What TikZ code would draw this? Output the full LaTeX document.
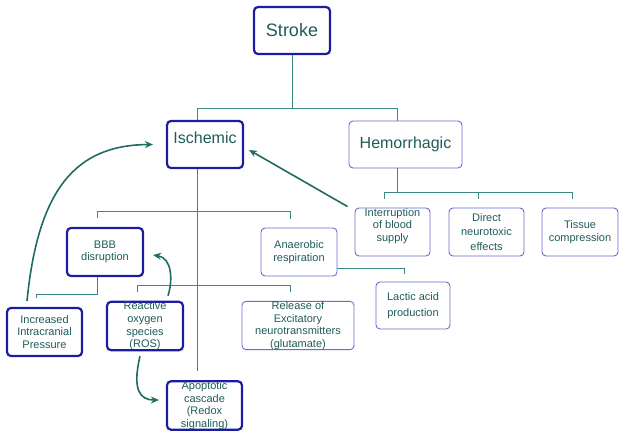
\documentclass[tikz,border=0pt]{standalone}
\usepackage{fontspec}
\setmainfont{Liberation Sans}
\usetikzlibrary{calc,arrows.meta}
\definecolor{tealline}{HTML}{3A8A82}
\definecolor{tealarrow}{HTML}{1F6B63}
\definecolor{tealtext}{HTML}{1E5C58}
\definecolor{darkblue}{HTML}{1C1CA0}
\definecolor{lightblue}{HTML}{6A6AD0}
\tikzset{
  box/.style={draw, rounded corners=4pt, inner sep=0pt, align=center,
    text=tealtext, font=\fontsize{11}{12.7}\selectfont},
  thickbox/.style={box, draw=darkblue, line width=2.2pt},
  thinbox/.style={box, draw=lightblue, line width=0.9pt},
  conn/.style={draw=tealline, line width=1pt},
  arr/.style={draw=tealarrow, line width=1.6pt, -{Stealth[length=8pt,width=7pt]}}
}
\begin{document}
\begin{tikzpicture}[x=1pt,y=-1pt]
\useasboundingbox (0,0) rectangle (624,437);
% nodes
\node[thickbox, minimum width=76, minimum height=47, font=\fontsize{18}{20}\selectfont] (stroke) at (292,30.5) {Stroke};
\node[thickbox, minimum width=76, minimum height=47, label={[text=tealtext, font=\fontsize{16}{18}\selectfont, yshift=7pt]center:Ischemic}] (isch) at (205,144.5) {};
\node[thinbox, minimum width=113, minimum height=47, font=\fontsize{16}{18}\selectfont] (hem) at (405.5,144.5) {Hemorrhagic};
\node[thickbox, minimum width=76, minimum height=48] (bbb) at (105,252) {BBB\\disruption};
\node[thinbox, minimum width=76, minimum height=48] (anaer) at (299,252) {Anaerobic\\respiration};
\node[thickbox, minimum width=75, minimum height=48] (icp) at (44.5,332) {Increased\\Intracranial\\Pressure};
\node[thickbox, minimum width=76, minimum height=48] (ros) at (145,326) {Reactive\\oxygen\\species\\(ROS)};
\node[thinbox, minimum width=112, minimum height=47] (rel) at (298,325.5) {Release of\\Excitatory\\neurotransmitters\\(glutamate)};
\node[thickbox, minimum width=75, minimum height=47] (apop) at (204.5,405.5) {Apoptotic\\cascade\\(Redox\\signaling)};
\node[thinbox, minimum width=74, minimum height=47, font=\fontsize{11}{16}\selectfont] (lactic) at (413,305.5) {Lactic acid\\production};
\node[thinbox, minimum width=75, minimum height=48, label={[text=tealtext, align=center, font=\fontsize{11}{12.7}\selectfont, yshift=6pt]center:Interruption\\of blood\\supply}] (intr) at (392.5,232) {};
\node[thinbox, minimum width=75, minimum height=48, font=\fontsize{11}{14.5}\selectfont] (direct) at (486.5,232) {Direct\\neurotoxic\\effects};
\node[thinbox, minimum width=76, minimum height=48] (tissue) at (580,232) {Tissue\\compression};
% tree connectors
\coordinate (j1) at ($(stroke.south)+(0,53)$);
\draw[conn] (stroke.south) -- (j1);
\draw[conn] ($(isch.north)+(-8,0)$) |- (j1) -| ($(hem.north)+(-8.5,0)$);
\coordinate (iend) at ($(apop.north)+(-7.5,-9)$);
\draw[conn] ($(isch.south)+(-8,0)$) -- (iend);
\draw[conn] ($(bbb.north)+(-8,-9)$) -- ++(0,-6) -| ($(anaer.north)+(-9,-9)$);
\draw[conn] ($(ros.north)+(-8,-9)$) -- ++(0,-6) -| ($(rel.north)+(-8,-8.5)$);
\draw[conn] ($(bbb.south)+(-8,0)$) -- ++(0,17) -| ($(icp.north)+(-8.5,-9)$);
\draw[conn] ($(anaer.east)+(0,16)$) -| ($(lactic.north)+(-9,-8)$);
\draw[conn] ($(hem.south)+(-8.5,0)$) -- ++(0,25) coordinate (j2);
\draw[conn] ($(intr.north)+(-8.5,-9)$) -- ++(0,-6) -| ($(tissue.north)+(-8,-9)$);
\draw[conn] ($(direct.north)+(-8.5,-9)$) -- ++(0,-6);
% arrows
\draw[arr] ($(intr.north west)+(-7,-1)$) -- ($(isch.east)+(5,5.5)$);
\draw[arr] ($(icp.north)+(-17.5,-6)$) .. controls (38,190) and (75,145) .. ($(isch.west)+(-13,0)$);
\draw[arr] ($(ros.north)+(23,-5)$) .. controls (173,280) and (172,258) .. ($(bbb.east)+(9,3)$);
\draw[arr] ($(ros.south)+(-5,5)$) .. controls (132,390) and (140,400) .. ($(apop.west)+(-7,-5.5)$);
\end{tikzpicture}
\end{document}
